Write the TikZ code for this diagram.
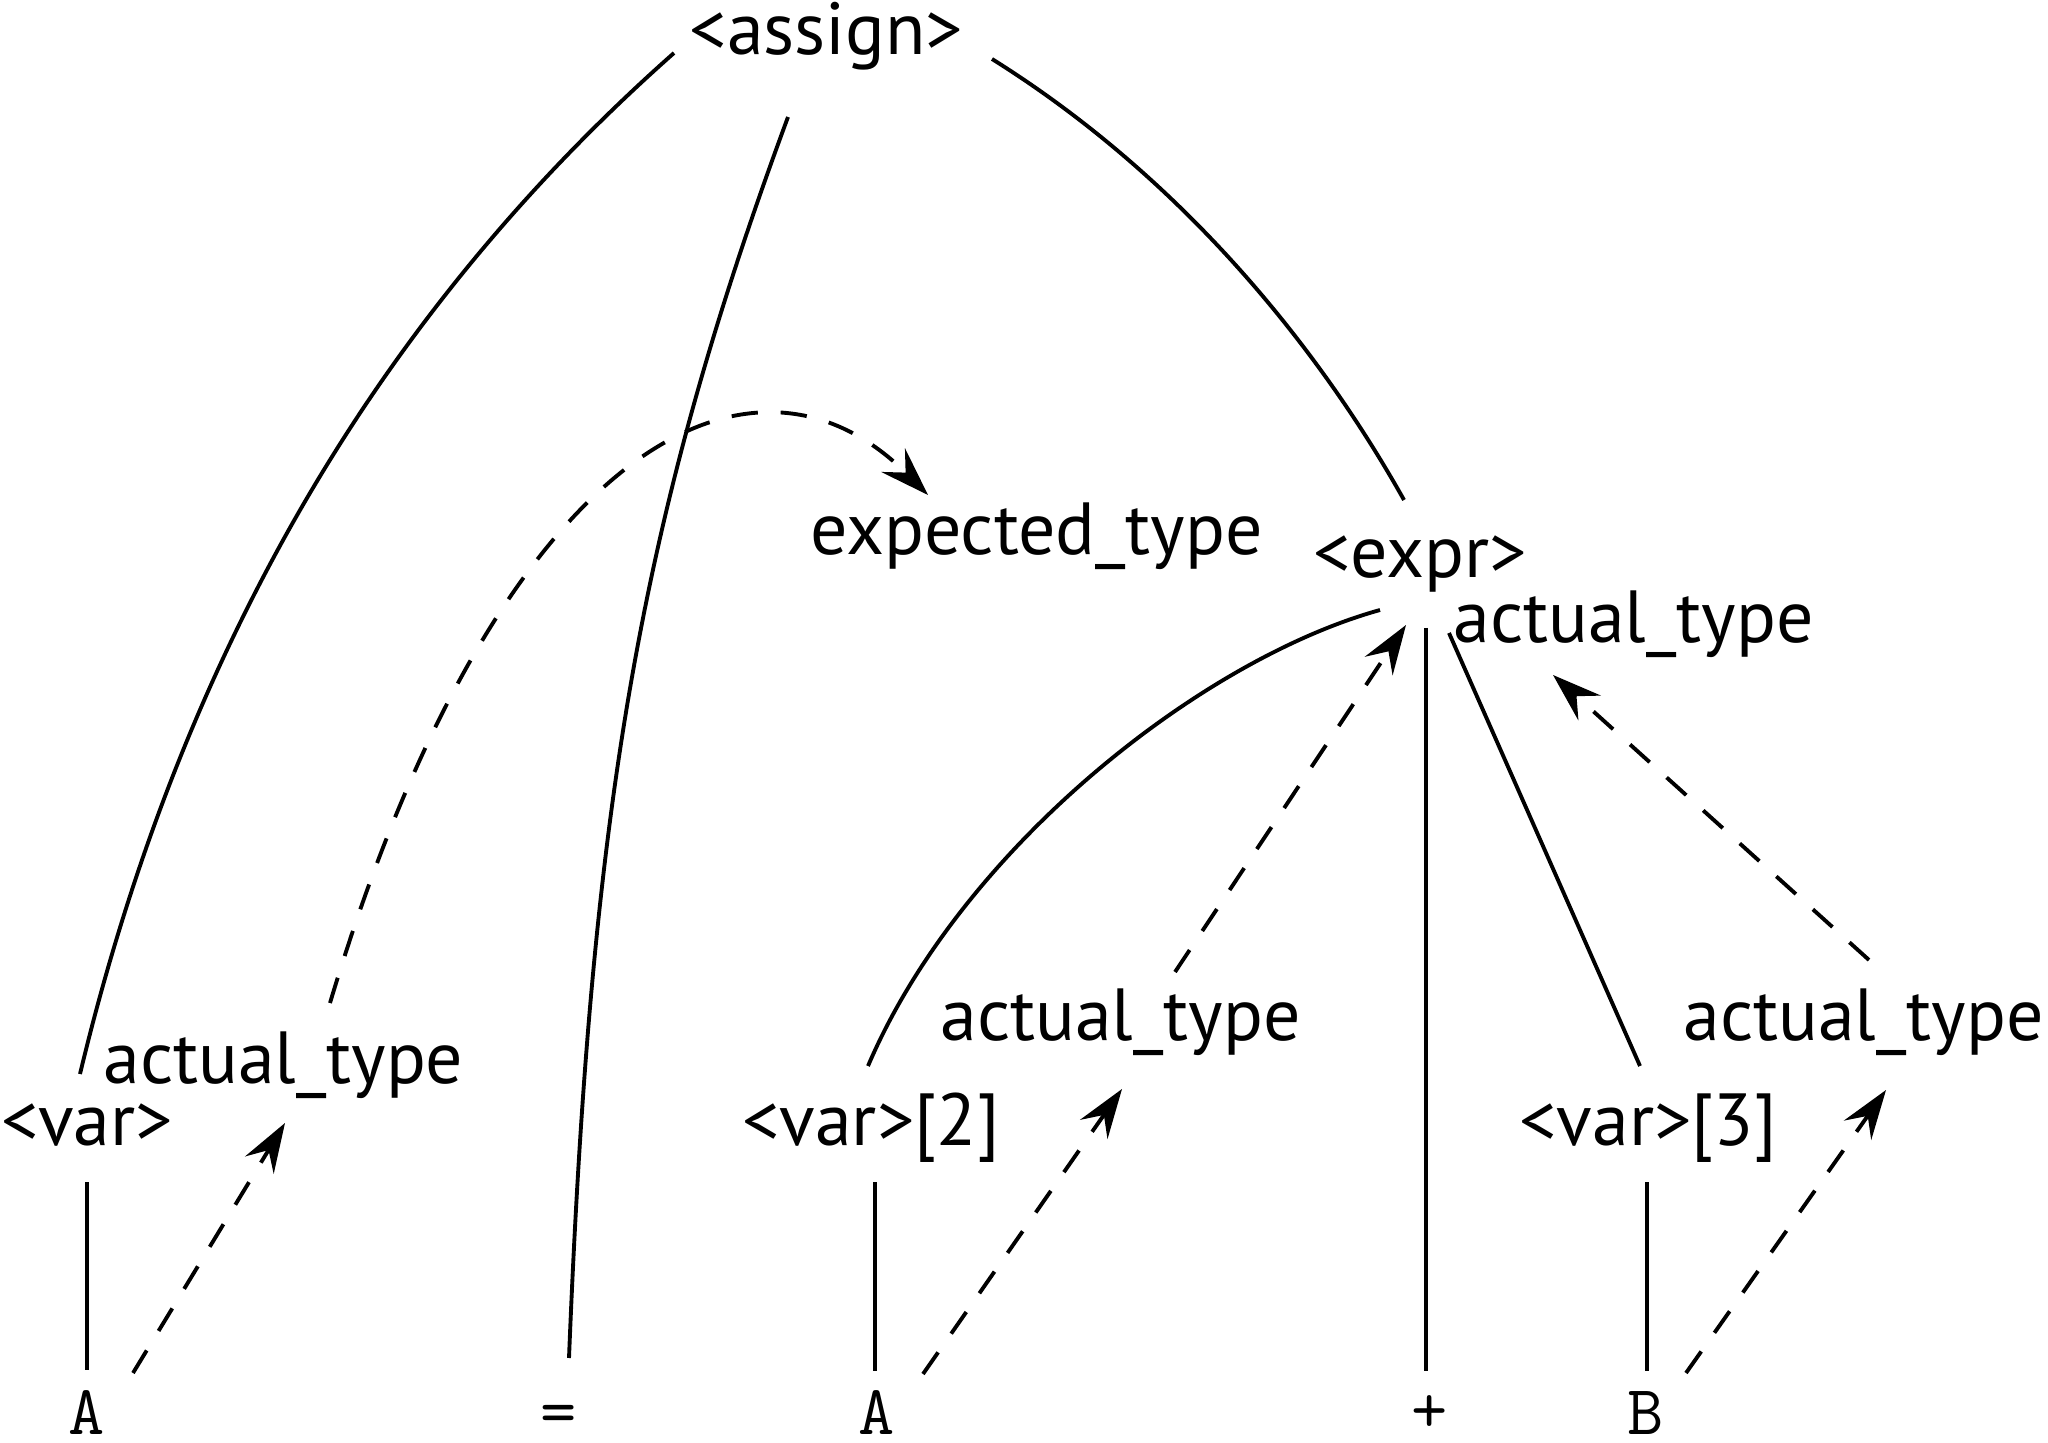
\documentclass[tikz,border=0pt]{standalone}
\usepackage{fontspec}
\setmainfont{PT Sans}
\usetikzlibrary{arrows.meta,calc}

\begin{document}
\begin{tikzpicture}[x=0.01cm,y=-0.01cm,
    tree/.style={line width=1.1pt},
    flow/.style={line width=1.1pt,dash pattern=on 7.5pt off 6.5pt,
      -{Stealth[length=14pt,width=9.5pt,inset=5pt]}},
    lab/.style={inner sep=0pt,anchor=base,font=\fontsize{21}{25}\selectfont},
    term/.style={inner sep=0pt,anchor=base,font=\ttfamily\fontsize{20}{22}\selectfont}]
         \useasboundingbox (0,0) rectangle (2048,1443) ;
         % nonterminals and attributes
         \node[lab] (assign) at (826.5,55) {<assign>} ;
         \node[lab] (expected) at (1036.5,555) {expected\_type} ;
         \node[lab] (expr) at (1420,578) {<expr>} ;
         \node[lab] (typeE) at (1633.5,643) {actual\_type} ;
         \node[lab] (type1) at (283.5,1083) {actual\_type} ;
         \node[lab] (var1) at (87,1145) {<var>} ;
         \node[lab] (type2) at (1120.5,1040) {actual\_type} ;
         \node[lab] (var2) at (871,1145) {<var>[2]} ;
         \node[lab] (type3) at (1863.5,1040) {actual\_type} ;
         \node[lab] (var3) at (1648,1145) {<var>[3]} ;
         % terminals
         \node[term] (A1) at (87,1434) {A} ;
         \node[term] (eq) at (559,1434) {=} ;
         \node[term] (A2) at (877,1434) {A} ;
         \node[term] (plus) at (1430,1432) {+} ;
         \node[term] (B) at (1646,1434) {B} ;
         % parse tree
         \draw[tree] ($(assign.base)+(-152.5,-2)$) .. controls (398,297) and (188,624) .. ($(var1.base)+(-7,-71)$) ;
         \draw[tree] ($(assign.base)+(-38.5,62)$) .. controls (640,517) and (591,808) .. ($(eq.base)+(10,-76)$) ;
         \draw[tree] ($(assign.base)+(165.5,4)$) .. controls (1184,179) and (1320,350) .. ($(expr.base)+(-16,-78)$) ;
         \draw[tree] ($(expr.base)+(-40,32)$) .. controls (1200,660) and (960,850) .. ($(var2.base)+(-3,-79)$) ;
         \draw[tree] ($(expr.base)+(6,50)$) -- ($(plus.base)+(-4,-61)$) ;
         \draw[tree] ($(expr.base)+(29,55)$) -- ($(var3.base)+(-8,-79)$) ;
         \draw[tree] ($(var1.base)+(0,37)$) -- ($(A1.base)+(0,-64)$) ;
         \draw[tree] ($(var2.base)+(4,37)$) -- ($(A2.base)+(-2,-63)$) ;
         \draw[tree] ($(var3.base)+(-1,37)$) -- ($(B.base)+(1,-63)$) ;
         % attribute flow
         \draw[flow] ($(A1.base)+(46,-61)$) -- ($(type1.base)+(1.5,40)$) ;
         \draw[flow] ($(type1.base)+(46.5,-80)$) .. controls (495,453) and (748,315) .. ($(expected.base)+(-108.5,-60)$) ;
         \draw[flow] ($(A2.base)+(46,-60)$) -- ($(type2.base)+(1.5,49)$) ;
         \draw[flow] ($(type2.base)+(54.5,-68)$) -- ($(expr.base)+(-14,47)$) ;
         \draw[flow] ($(B.base)+(40,-61)$) -- ($(type3.base)+(22.5,50)$) ;
         \draw[flow] ($(type3.base)+(5.5,-80)$) -- ($(typeE.base)+(-80.5,32)$) ;
\end{tikzpicture}
\end{document}
